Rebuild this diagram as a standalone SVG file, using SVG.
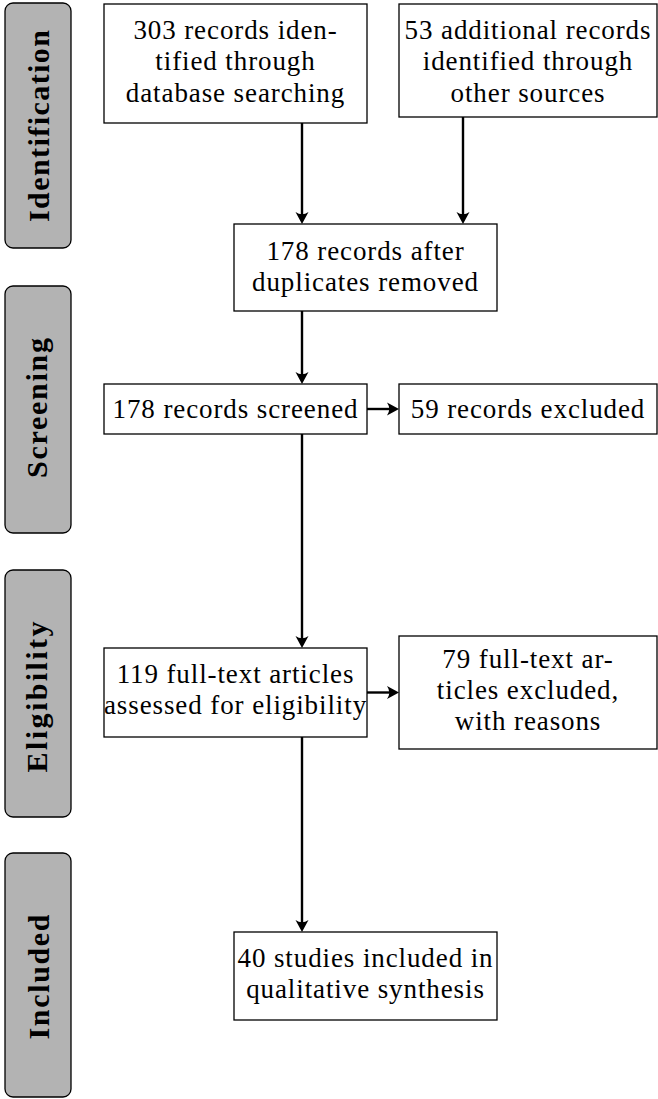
<svg xmlns="http://www.w3.org/2000/svg" width="658" height="1099" viewBox="0 0 658 1099">
<style>
.box{fill:#fff;stroke:#000;stroke-width:1.3}
.side{fill:#b3b3b3;stroke:#000;stroke-width:1.3}
.t{font-family:"Liberation Serif","Times New Roman",serif;font-size:27px;letter-spacing:0.9px;text-anchor:middle;fill:#000}
.s{font-family:"Liberation Serif","Times New Roman",serif;font-size:30px;font-weight:bold;text-anchor:middle;fill:#000}
.c{stroke:#000;stroke-width:2.4;fill:none}
</style>
<defs>
<marker id="ah" markerUnits="userSpaceOnUse" viewBox="-7 -8 16 16" refX="0" refY="0" markerWidth="16" markerHeight="16" orient="auto">
<path d="M7,0 L-5,-6.5 Q-0.5,0 -5,6.5 Z" fill="#000"/>
</marker>
</defs>
<rect width="658" height="1099" fill="#fff"/>
<g id="stage-identification">
<rect class="side" x="5" y="3" width="66" height="245" rx="8"/>
<text class="s" transform="translate(49,126) rotate(-90)" textLength="192" lengthAdjust="spacing">Identification</text>
</g>
<g id="stage-screening">
<rect class="side" x="5" y="286" width="66" height="247" rx="8"/>
<text class="s" transform="translate(47,408) rotate(-90)" textLength="140" lengthAdjust="spacing">Screening</text>
</g>
<g id="stage-eligibility">
<rect class="side" x="5" y="570" width="66" height="247" rx="8"/>
<text class="s" transform="translate(47,697) rotate(-90)" textLength="151" lengthAdjust="spacing">Eligibility</text>
</g>
<g id="stage-included">
<rect class="side" x="5" y="853" width="66" height="244" rx="8"/>
<text class="s" transform="translate(49,977) rotate(-90)" textLength="125" lengthAdjust="spacing">Included</text>
</g>
<g id="n1">
<rect class="box" x="104" y="4" width="263" height="119"/>
<text class="t" x="235.5" y="38.5">303 records iden-</text>
<text class="t" x="235.5" y="70">tified through</text>
<text class="t" x="235.5" y="101.5">database searching</text>
</g>
<g id="n2">
<rect class="box" x="399" y="4" width="258" height="113"/>
<text class="t" x="528" y="38.5">53 additional records</text>
<text class="t" x="528" y="70">identified through</text>
<text class="t" x="528" y="101.5">other sources</text>
</g>
<g id="n3">
<rect class="box" x="234" y="224" width="263" height="87"/>
<text class="t" x="365.5" y="260">178 records after</text>
<text class="t" x="365.5" y="290.5">duplicates removed</text>
</g>
<g id="n4">
<rect class="box" x="104" y="384" width="263" height="50"/>
<text class="t" x="235.5" y="418">178 records screened</text>
</g>
<g id="n5">
<rect class="box" x="399" y="384" width="258" height="50"/>
<text class="t" x="528" y="418">59 records excluded</text>
</g>
<g id="n6">
<rect class="box" x="104" y="648" width="263" height="89"/>
<text class="t" x="235.5" y="683">119 full-text articles</text>
<text class="t" x="235.5" y="714">assessed for eligibility</text>
</g>
<g id="n7">
<rect class="box" x="399" y="636" width="258" height="113"/>
<text class="t" x="528" y="668">79 full-text ar-</text>
<text class="t" x="528" y="699">ticles excluded,</text>
<text class="t" x="528" y="730">with reasons</text>
</g>
<g id="n8">
<rect class="box" x="234" y="932" width="263" height="88"/>
<text class="t" x="365.5" y="967">40 studies included in</text>
<text class="t" x="365.5" y="998">qualitative synthesis</text>
</g>
<g id="connectors">
<line class="c" x1="302" y1="123" x2="302" y2="217" marker-end="url(#ah)"/>
<line class="c" x1="463" y1="117" x2="463" y2="217" marker-end="url(#ah)"/>
<line class="c" x1="302" y1="311" x2="302" y2="377" marker-end="url(#ah)"/>
<line class="c" x1="367" y1="409" x2="392" y2="409" marker-end="url(#ah)"/>
<line class="c" x1="302" y1="434" x2="302" y2="641" marker-end="url(#ah)"/>
<line class="c" x1="367" y1="692.5" x2="392" y2="692.5" marker-end="url(#ah)"/>
<line class="c" x1="302" y1="737" x2="302" y2="925" marker-end="url(#ah)"/>
</g>
</svg>
